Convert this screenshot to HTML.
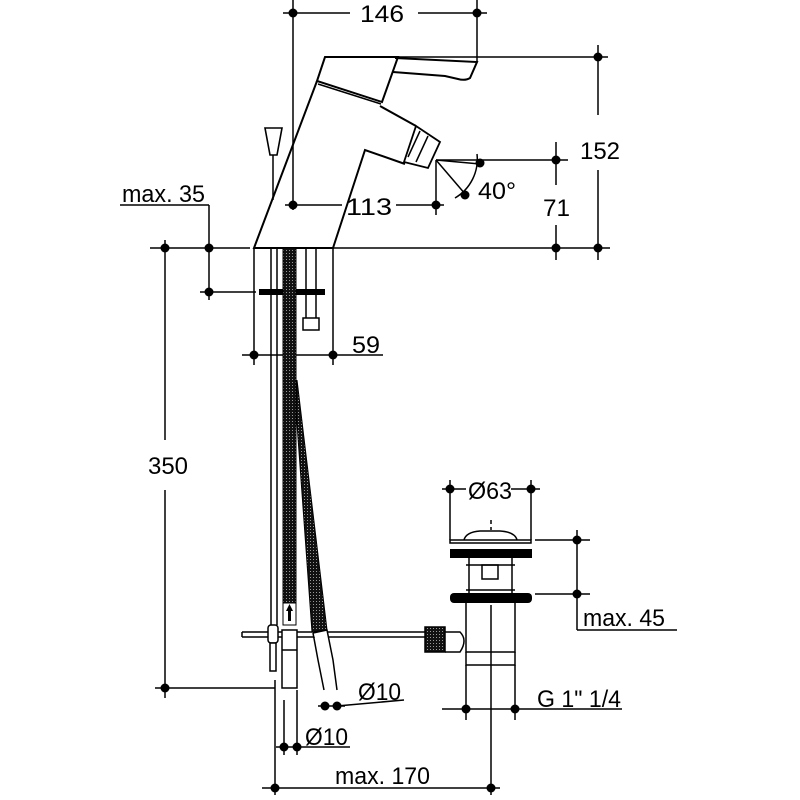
<!DOCTYPE html>
<html><head><meta charset="utf-8"><style>
html,body{margin:0;padding:0;background:#fff}
svg{display:block}
text{font-family:"Liberation Sans",sans-serif;font-size:24px;fill:#000}
</style></head><body>
<svg width="800" height="800" viewBox="0 0 800 800" xmlns="http://www.w3.org/2000/svg">
<defs>
<pattern id="knit" width="3" height="3" patternUnits="userSpaceOnUse">
<rect width="3" height="3" fill="#111"/><rect x="1" y="1" width="1" height="1" fill="#999"/>
</pattern>
</defs>
<g stroke="#000" stroke-width="1.5" fill="none">
<line x1="293" y1="0" x2="293" y2="210"/>
<line x1="477" y1="0" x2="477" y2="62"/>
<line x1="283" y1="13" x2="350" y2="13"/>
<line x1="418" y1="13" x2="487" y2="13"/>
<line x1="325" y1="57" x2="608" y2="57"/>
<line x1="598" y1="45" x2="598" y2="115"/>
<line x1="598" y1="170" x2="598" y2="260"/>
<line x1="150" y1="248" x2="250" y2="248"/>
<line x1="333" y1="248" x2="610" y2="248"/>
<line x1="436" y1="160" x2="568" y2="160"/>
<line x1="556" y1="142" x2="556" y2="185"/>
<line x1="556" y1="225" x2="556" y2="260"/>
<line x1="285" y1="205" x2="342" y2="205"/>
<line x1="396" y1="205" x2="444" y2="205"/>
<line x1="436" y1="160" x2="436" y2="215"/>
<line x1="436" y1="160" x2="480" y2="164"/>
<line x1="436" y1="160" x2="466" y2="195"/>
<path d="M477 154 A45 45 0 0 1 455 198"/>
<line x1="120" y1="205" x2="209" y2="205"/>
<line x1="209" y1="205" x2="209" y2="300"/>
<line x1="200" y1="292" x2="256" y2="292"/>
<line x1="254" y1="248" x2="254" y2="365"/>
<line x1="333" y1="248" x2="333" y2="365"/>
<line x1="242" y1="355" x2="383" y2="355"/>
<line x1="165" y1="240" x2="165" y2="440"/>
<line x1="165" y1="490" x2="165" y2="698"/>
<line x1="155" y1="688" x2="275" y2="688"/>
<path d="M317 81 L254 248 L333 248 L365 150 L405 164" stroke-width="2"/>
<path d="M380 106 L416 126" stroke-width="2"/>
<path d="M317 81 L325 57 L398 57 L382 102 Z" stroke-width="2"/>
<line x1="318" y1="84" x2="381" y2="104"/>
<path d="M395 58 L477 62 L470 78 Q465 81 458 79 L445 76 L393 72" stroke-width="2"/>
<path d="M416 126 L440 142 L428 168 L404 162 Z" stroke-width="1.8"/>
<line x1="420" y1="131" x2="408" y2="157"/>
<line x1="428" y1="136" x2="416" y2="162"/>
<path d="M265 128 L282 128 L277 155 L270 155 Z" stroke-width="1.6"/>
<line x1="273" y1="155" x2="273" y2="200"/>
<line x1="271" y1="248" x2="271" y2="625"/>
<line x1="277" y1="248" x2="277" y2="625"/>
<line x1="306" y1="248" x2="306" y2="292"/>
<line x1="316" y1="248" x2="316" y2="292"/>
<rect x="303" y="318" width="16" height="12"/>
<line x1="306" y1="294" x2="306" y2="318"/>
<line x1="316" y1="294" x2="316" y2="318"/>
</g>
<rect x="259" y="289" width="66" height="6" fill="#000"/>
<path d="M296 410 L312 632 L327 630 L297 380 Z" fill="url(#knit)" stroke="#000"/>
<rect x="283" y="248" width="13" height="355" fill="url(#knit)" stroke="#000"/>
<rect x="283" y="603" width="13" height="22" fill="#fff" stroke="#000"/>
<path d="M288 621 L288 611 L286 611 L289.5 604 L293 611 L291 611 L291 621Z" fill="#000"/>
<g stroke="#000" stroke-width="1.5" fill="none">
<line x1="242" y1="637" x2="425" y2="637"/>
<line x1="242" y1="632" x2="425" y2="632"/>
<line x1="242" y1="632" x2="242" y2="637"/>
<rect x="268" y="625" width="10" height="18" rx="3" fill="#fff"/>
<rect x="270" y="643" width="6" height="28" fill="#fff"/>
<rect x="282" y="630" width="15" height="58" fill="#fff"/>
<line x1="282" y1="650" x2="297" y2="650"/>
<path d="M313 633 L327 630 L333 660 L337 690" fill="#fff"/>
<path d="M313 633 L318 660 L324 690"/>
<rect x="425" y="627" width="20" height="25" fill="url(#knit)"/>
<path d="M445 632 L460 632 Q468 640 460 652 L445 652"/>
<path d="M466 602 L466 652 L515 652 L515 602"/>
<path d="M466 652 L466 665 L515 665 L515 652"/>
<line x1="466" y1="665" x2="466" y2="720"/>
<line x1="515" y1="665" x2="515" y2="720"/>
<path d="M469 558 L469 593 M512 558 L512 593"/>
<path d="M466 565 L515 565 M466 590 L515 590"/>
<rect x="482" y="565" width="16" height="14"/>
<path d="M450 540 L531 540 L531 543 L450 543 Z"/>
<path d="M464 540 Q466 532 480 531 L500 531 Q515 532 517 540"/>
<line x1="491" y1="520" x2="491" y2="530" stroke-dasharray="4 3"/>
<line x1="491" y1="605" x2="491" y2="795"/>
<line x1="450" y1="480" x2="450" y2="540"/>
<line x1="531" y1="480" x2="531" y2="540"/>
<line x1="442" y1="489" x2="466" y2="489"/>
<line x1="511" y1="489" x2="540" y2="489"/>
<line x1="535" y1="540" x2="590" y2="540"/>
<line x1="535" y1="594" x2="590" y2="594"/>
<line x1="577" y1="530" x2="577" y2="630"/>
<line x1="577" y1="630" x2="677" y2="630"/>
<line x1="442" y1="709" x2="622" y2="709"/>
<line x1="318" y1="706" x2="345" y2="706"/>
<line x1="337" y1="706" x2="404" y2="700"/>
<line x1="284" y1="700" x2="284" y2="755"/>
<line x1="297" y1="690" x2="297" y2="755"/>
<line x1="276" y1="747" x2="350" y2="747"/>
<line x1="275" y1="680" x2="275" y2="795"/>
<line x1="262" y1="788" x2="500" y2="788"/>
</g>
<rect x="450" y="549" width="82" height="9" fill="#000"/>
<rect x="450" y="593" width="82" height="10" rx="4" fill="#000"/>
<g fill="#000">
<circle cx="293" cy="13" r="4.5"/><circle cx="477" cy="13" r="4.5"/>
<circle cx="598" cy="57" r="4.5"/><circle cx="598" cy="248" r="4.5"/>
<circle cx="556" cy="160" r="4.5"/><circle cx="556" cy="248" r="4.5"/>
<circle cx="480" cy="163" r="4.5"/><circle cx="465" cy="195" r="4.5"/>
<circle cx="293" cy="205" r="4.5"/><circle cx="436" cy="205" r="4.5"/>
<circle cx="209" cy="248" r="4.5"/><circle cx="209" cy="292" r="4.5"/>
<circle cx="165" cy="248" r="4.5"/><circle cx="165" cy="688" r="4.5"/>
<circle cx="254" cy="355" r="4.5"/><circle cx="333" cy="355" r="4.5"/>
<circle cx="450" cy="489" r="4.5"/><circle cx="531" cy="489" r="4.5"/>
<circle cx="577" cy="540" r="4.5"/><circle cx="577" cy="594" r="4.5"/>
<circle cx="466" cy="709" r="4.5"/><circle cx="515" cy="709" r="4.5"/>
<circle cx="325" cy="706" r="4.5"/><circle cx="337" cy="706" r="4.5"/>
<circle cx="284" cy="747" r="4.5"/><circle cx="297" cy="747" r="4.5"/>
<circle cx="275" cy="788" r="4.5"/><circle cx="491" cy="788" r="4.5"/>
</g>
<text x="360" y="22" textLength="44" lengthAdjust="spacingAndGlyphs">146</text>
<text x="580" y="159" textLength="40" lengthAdjust="spacingAndGlyphs">152</text>
<text x="478" y="199" textLength="38" lengthAdjust="spacingAndGlyphs">40°</text>
<text x="346" y="215" textLength="46" lengthAdjust="spacingAndGlyphs">113</text>
<text x="543" y="216" textLength="27" lengthAdjust="spacingAndGlyphs">71</text>
<text x="122" y="202" textLength="83" lengthAdjust="spacingAndGlyphs">max. 35</text>
<text x="352" y="353" textLength="28" lengthAdjust="spacingAndGlyphs">59</text>
<text x="148" y="474" textLength="40" lengthAdjust="spacingAndGlyphs">350</text>
<text x="468" y="499" textLength="44" lengthAdjust="spacingAndGlyphs">Ø63</text>
<text x="583" y="626" textLength="82" lengthAdjust="spacingAndGlyphs">max. 45</text>
<text x="537" y="707" textLength="84" lengthAdjust="spacingAndGlyphs">G 1" 1/4</text>
<text x="358" y="700" textLength="43" lengthAdjust="spacingAndGlyphs">Ø10</text>
<text x="305" y="745" textLength="43" lengthAdjust="spacingAndGlyphs">Ø10</text>
<text x="335" y="784" textLength="95" lengthAdjust="spacingAndGlyphs">max. 170</text>
</svg>
</body></html>
